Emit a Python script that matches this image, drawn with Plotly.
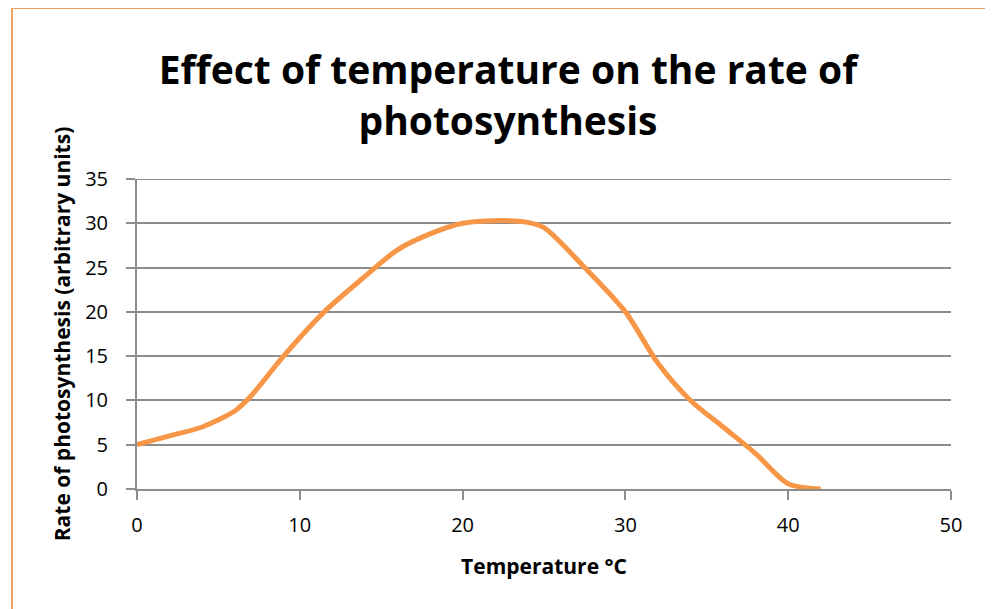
import plotly.graph_objects as go

# temperature (°C) vs rate of photosynthesis
temperature = [0, 2, 4, 6, 7, 9, 11.5, 14, 16, 18, 20, 22, 24, 25, 27.5, 30, 32, 34, 36, 38, 40, 42]
rate = [5, 6, 7, 8.8, 10.5, 15, 20, 24, 27, 28.8, 30, 30.3, 30.1, 29.5, 25, 20, 14.2, 10, 7, 4, 0.6, 0]

x_ticks = [0, 10, 20, 30, 40, 50]
y_ticks = [0, 5, 10, 15, 20, 25, 30, 35]

# page offset (body margin) and plot area in screen pixels
OFF = 8
L, R, T, B = 137, 951, 179, 489
W, H = 993 - OFF, 609 - OFF
pw, ph = R - L, B - T


def px_x(v):
    return (v - L) / pw


def px_y(v):
    return (B - v) / ph


grid = '#8c8c8c'
font = 'Open Sans, DejaVu Sans, sans-serif'

fig = go.Figure()

fig.add_trace(go.Scatter(
    x=temperature,
    y=rate,
    mode='lines',
    line=dict(color='#F79646', width=5, shape='spline', smoothing=0.8),
    showlegend=False,
    hoverinfo='skip'
))

fig.update_layout(
    width=W,
    height=H,
    plot_bgcolor='white',
    paper_bgcolor='white',
    margin=dict(l=L - OFF, r=W - (R - OFF), t=T - OFF, b=H - (B - OFF), autoexpand=False),
    title=dict(
        text='Effect of temperature on the rate of<br>photosynthesis',
        font=dict(family=font, size=39, color='black', weight='bold'),
        x=(508 - OFF) / W, xanchor='center',
        y=1 - (84 - OFF) / H, yanchor='top'
    ),
    xaxis=dict(
        range=[0, 50],
        tickvals=x_ticks,
        showgrid=False,
        zeroline=False,
        showline=True, linecolor=grid, linewidth=2,
        ticks='outside', ticklen=9, tickwidth=2, tickcolor=grid,
        ticklabelstandoff=8,
        tickfont=dict(family=font, size=20, color='black'),
        title=dict(text='Temperature °C', font=dict(family=font, size=21, color='black', weight='bold'), standoff=22),
        fixedrange=True
    ),
    yaxis=dict(
        range=[0, 35],
        tickvals=y_ticks,
        showgrid=True, gridcolor=grid, gridwidth=2,
        zeroline=False,
        showline=True, linecolor=grid, linewidth=2,
        ticks='outside', ticklen=9, tickwidth=2, tickcolor=grid,
        ticklabelstandoff=14,
        tickfont=dict(family=font, size=20, color='black'),
        title=dict(text='Rate of photosynthesis (arbitrary units)', font=dict(family=font, size=21, color='black', weight='bold'), standoff=9),
        fixedrange=True
    ),
    shapes=[
        # chart frame (top and left edge visible)
        dict(type='line', xref='paper', yref='paper', x0=px_x(12), x1=px_x(993 + 5), y0=px_y(8), y1=px_y(8),
             line=dict(color='#E9A064', width=2)),
        dict(type='line', xref='paper', yref='paper', x0=px_x(12), x1=px_x(12), y0=px_y(8), y1=px_y(609 + 5),
             line=dict(color='#E9A064', width=2)),
        # top grid line at 35
        dict(type='line', xref='paper', yref='y', x0=0, x1=1, y0=35, y1=35, line=dict(color=grid, width=2)),
    ],
)

fig.write_html('out.html')
